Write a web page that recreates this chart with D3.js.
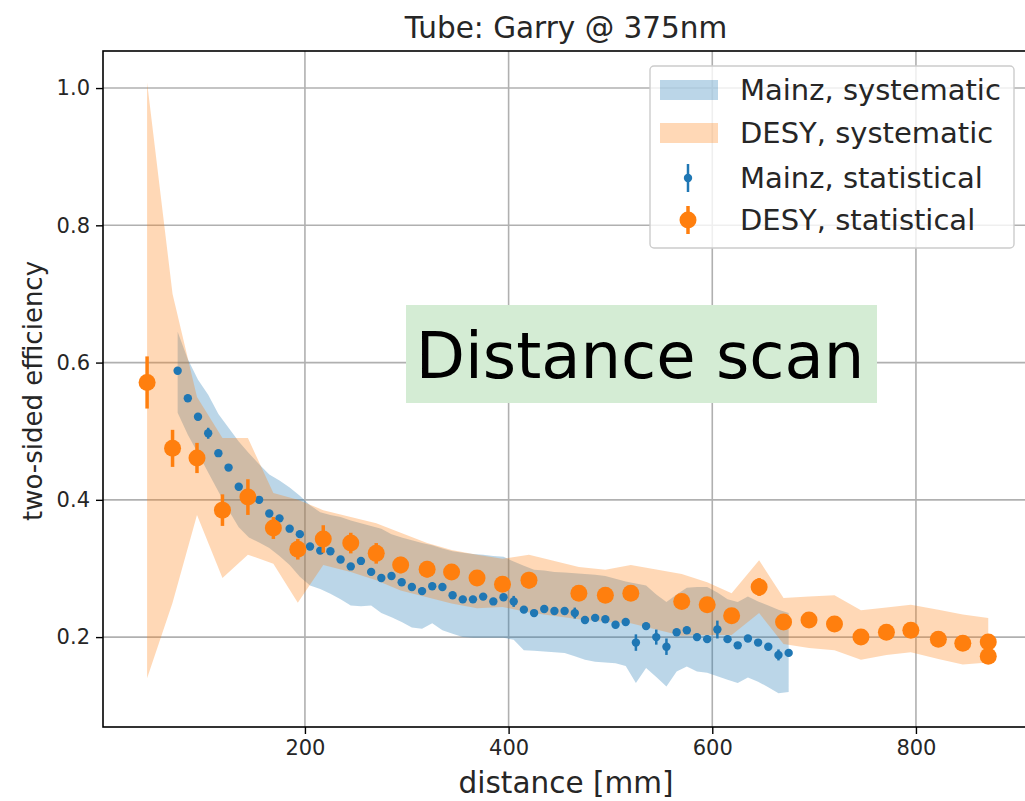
<!DOCTYPE html>
<html>
<head>
<meta charset="utf-8">
<script src="https://cdn.jsdelivr.net/npm/d3@7"></script>
<style>
  body { margin: 0; background: #fff; }
  svg { display: block; font-family: "DejaVu Sans", sans-serif; }
</style>
</head>
<body>
<svg id="chart" width="1025" height="801"></svg>
<script>
// ---- data ----
var mainzX = d3.range(75, 676, 10);
var mainzY = [0.588, 0.548, 0.521, 0.497, 0.468, 0.447, 0.419, 0.404, 0.400, 0.380,
              0.373, 0.358, 0.350, 0.332, 0.326, 0.325, 0.313, 0.303, 0.311, 0.295,
              0.286, 0.289, 0.280, 0.273, 0.267, 0.274, 0.273, 0.261, 0.255, 0.255,
              0.259, 0.252, 0.258, 0.252, 0.240, 0.235, 0.241, 0.238, 0.238, 0.235,
              0.225, 0.228, 0.226, 0.218, 0.222, 0.192, 0.216, 0.200, 0.186, 0.207,
              0.210, 0.200, 0.197, 0.211, 0.197, 0.188, 0.198, 0.192, 0.186, 0.174, 0.177];
var mainzErr = [0.005, 0.005, 0.005, 0.008, 0.005, 0.005, 0.005, 0.005, 0.005, 0.005,
                0.005, 0.005, 0.005, 0.005, 0.005, 0.005, 0.005, 0.005, 0.005, 0.005,
                0.005, 0.005, 0.005, 0.005, 0.005, 0.005, 0.005, 0.005, 0.005, 0.005,
                0.005, 0.005, 0.005, 0.008, 0.005, 0.005, 0.005, 0.005, 0.005, 0.008,
                0.005, 0.005, 0.005, 0.005, 0.005, 0.012, 0.005, 0.011, 0.012, 0.005,
                0.005, 0.005, 0.005, 0.013, 0.005, 0.005, 0.005, 0.005, 0.005, 0.008, 0.005];
var mainzSysHi = [0.645, 0.605, 0.575, 0.553, 0.525, 0.505, 0.485, 0.468, 0.452, 0.437,
                  0.428, 0.418, 0.406, 0.392, 0.382, 0.378, 0.375, 0.370, 0.366, 0.362,
                  0.358, 0.350, 0.345, 0.341, 0.337, 0.334, 0.329, 0.325, 0.323, 0.321,
                  0.320, 0.318, 0.317, 0.310, 0.304, 0.298, 0.297, 0.295, 0.294, 0.293,
                  0.292, 0.291, 0.289, 0.285, 0.281, 0.278, 0.275, 0.262, 0.251, 0.262,
                  0.272, 0.273, 0.273, 0.265, 0.255, 0.251, 0.259, 0.252, 0.246, 0.240, 0.235];
var mainzSysLo = [0.527, 0.495, 0.468, 0.440, 0.412, 0.385, 0.360, 0.345, 0.338, 0.330,
                  0.318, 0.305, 0.288, 0.275, 0.270, 0.263, 0.255, 0.246, 0.245, 0.246,
                  0.235, 0.229, 0.222, 0.214, 0.212, 0.220, 0.210, 0.205, 0.200, 0.199,
                  0.199, 0.199, 0.199, 0.196, 0.181, 0.180, 0.179, 0.178, 0.177, 0.172,
                  0.167, 0.164, 0.163, 0.162, 0.158, 0.133, 0.155, 0.142, 0.128, 0.150,
                  0.157, 0.150, 0.148, 0.143, 0.138, 0.133, 0.141, 0.135, 0.127, 0.118, 0.120];

var desyX = [45, 70, 94, 119, 144, 169, 193, 218, 245, 270, 294, 320, 344, 369, 394, 420,
             469, 495, 520, 570, 595, 619, 646, 670, 695, 720, 746, 771, 795, 822, 846, 871, 871];
var desyY = [0.571, 0.475, 0.461, 0.385, 0.404, 0.359, 0.328, 0.343, 0.337, 0.322, 0.305,
             0.299, 0.295, 0.286, 0.277, 0.283, 0.264, 0.261, 0.264, 0.252, 0.247, 0.231,
             0.273, 0.222, 0.225, 0.219, 0.200, 0.207, 0.210, 0.197, 0.191, 0.193, 0.172];
var desyErr = [0.038, 0.027, 0.022, 0.023, 0.026, 0.016, 0.015, 0.020, 0.015, 0.015, 0.012,
               0.012, 0.011, 0.011, 0.011, 0.012, 0.010, 0.010, 0.011, 0.010, 0.010, 0.010,
               0.013, 0.009, 0.008, 0.009, 0.008, 0.007, 0.011, 0.008, 0.007, 0.008, 0.008];
// systematic band, one vertex per distinct DESY distance
var desyBandX = [45, 70, 94, 119, 144, 169, 193, 218, 245, 270, 294, 320, 344, 369, 394, 420,
                 469, 495, 520, 570, 595, 619, 646, 670, 695, 720, 746, 771, 795, 822, 846, 871];
var desySysHi = [1.008, 0.700, 0.550, 0.490, 0.490, 0.410, 0.400, 0.385, 0.375, 0.366, 0.352,
                 0.337, 0.327, 0.320, 0.314, 0.320, 0.302, 0.298, 0.305, 0.292, 0.280, 0.264,
                 0.312, 0.257, 0.259, 0.261, 0.239, 0.243, 0.247, 0.240, 0.233, 0.228];
var desySysLo = [0.140, 0.250, 0.378, 0.286, 0.320, 0.307, 0.250, 0.305, 0.295, 0.283, 0.268,
                 0.258, 0.249, 0.242, 0.244, 0.236, 0.226, 0.222, 0.220, 0.202, 0.203, 0.203,
                 0.235, 0.190, 0.184, 0.181, 0.167, 0.174, 0.178, 0.168, 0.160, 0.163];

var xTicks = [200, 400, 600, 800];
var yTicks = [0.2, 0.4, 0.6, 0.8, 1.0];
var legendLabels = ["Mainz, systematic", "DESY, systematic", "Mainz, statistical", "DESY, statistical"];

var blue = "#1f77b4", orange = "#ff7f0e";

var svg = d3.select("#chart");
var pLeft = 103, pTop = 51, pBottom = 727, pRight = 1030;

var x = d3.scaleLinear().domain([1.7, 912]).range([pLeft, pRight]);
var y = d3.scaleLinear().domain([0.069, 1.054]).range([pBottom, pTop]);

// grid
var grid = svg.append("g");
grid.selectAll("line.gx").data(xTicks).enter().append("line").attr("class", "gx")
    .attr("x1", d => x(d)).attr("x2", d => x(d)).attr("y1", pTop).attr("y2", pBottom)
    .attr("stroke", "#b0b0b0").attr("stroke-width", 1.6);
grid.selectAll("line.gy").data(yTicks).enter().append("line").attr("class", "gy")
    .attr("y1", d => y(d)).attr("y2", d => y(d)).attr("x1", pLeft).attr("x2", pRight)
    .attr("stroke", "#b0b0b0").attr("stroke-width", 1.6);

// systematic bands
var mainzBand = mainzX.map((d, i) => ({x: d, lo: mainzSysLo[i], hi: mainzSysHi[i]}));
var desyBand = desyBandX.map((d, i) => ({x: d, lo: desySysLo[i], hi: desySysHi[i]}));
var area = d3.area().x(d => x(d.x)).y0(d => y(d.lo)).y1(d => y(d.hi));
svg.append("path").datum(mainzBand).attr("d", area).attr("fill", blue).attr("fill-opacity", 0.3);
svg.append("path").datum(desyBand).attr("d", area).attr("fill", orange).attr("fill-opacity", 0.3);

// statistical points
var mainz = mainzX.map((d, i) => ({x: d, y: mainzY[i], e: mainzErr[i]}));
var desy = desyX.map((d, i) => ({x: d, y: desyY[i], e: desyErr[i]}));

function points(data, color, r, w) {
    var g = svg.append("g");
    g.selectAll("line").data(data).enter().append("line")
        .attr("x1", d => x(d.x)).attr("x2", d => x(d.x))
        .attr("y1", d => y(d.y - d.e)).attr("y2", d => y(d.y + d.e))
        .attr("stroke", color).attr("stroke-width", w);
    g.selectAll("circle").data(data).enter().append("circle")
        .attr("cx", d => x(d.x)).attr("cy", d => y(d.y)).attr("r", r)
        .attr("fill", color);
}
points(mainz, blue, 4.2, 2.5);
points(desy, orange, 8.5, 3.5);

// annotation box
var ann = svg.append("g");
ann.append("rect").attr("x", 406).attr("y", 305).attr("width", 471).attr("height", 98)
    .attr("fill", "#d4ecd4");
ann.append("text").attr("x", 640).attr("y", 378).attr("text-anchor", "middle")
    .attr("font-size", 64).attr("fill", "#000").text("Distance scan");

// spines
svg.append("rect").attr("x", pLeft).attr("y", pTop).attr("width", pRight - pLeft).attr("height", pBottom - pTop)
    .attr("fill", "none").attr("stroke", "#000").attr("stroke-width", 1.6);

// axes
var xAxis = svg.append("g").attr("transform", "translate(0," + pBottom + ")")
    .call(d3.axisBottom(x).tickValues(xTicks).tickSize(7).tickPadding(6).tickFormat(d3.format("d")));
var yAxis = svg.append("g").attr("transform", "translate(" + pLeft + ",0)")
    .call(d3.axisLeft(y).tickValues(yTicks).tickSize(7).tickPadding(6).tickFormat(d3.format(".1f")));
[xAxis, yAxis].forEach(function(a) {
    a.select(".domain").remove();
    a.selectAll("text").attr("font-size", 21).attr("font-family", "DejaVu Sans").attr("fill", "#262626");
    a.selectAll("line").attr("stroke", "#000").attr("stroke-width", 1.4);
});

// labels
svg.append("text").attr("x", 566).attr("y", 38).attr("text-anchor", "middle")
    .attr("font-size", 29.5).attr("fill", "#262626").text("Tube: Garry @ 375nm");
svg.append("text").attr("x", 566).attr("y", 793).attr("text-anchor", "middle")
    .attr("font-size", 29.5).attr("fill", "#262626").text("distance [mm]");
svg.append("text").attr("transform", "translate(42,391) rotate(-90)").attr("text-anchor", "middle")
    .attr("font-size", 26).attr("fill", "#262626").text("two-sided efficiency");

// legend
var lg = svg.append("g").attr("transform", "translate(650,66)");
lg.append("rect").attr("width", 364).attr("height", 182).attr("rx", 4)
    .attr("fill", "#fff").attr("fill-opacity", 0.8).attr("stroke", "#cccccc").attr("stroke-width", 1.4);
var rowY = [24, 67, 112, 154];
lg.append("rect").attr("x", 10).attr("y", rowY[0] - 10).attr("width", 58).attr("height", 20)
    .attr("fill", blue).attr("fill-opacity", 0.3);
lg.append("rect").attr("x", 10).attr("y", rowY[1] - 10).attr("width", 58).attr("height", 20)
    .attr("fill", orange).attr("fill-opacity", 0.3);
lg.append("line").attr("x1", 38).attr("x2", 38).attr("y1", rowY[2] - 14).attr("y2", rowY[2] + 14)
    .attr("stroke", blue).attr("stroke-width", 2.5);
lg.append("circle").attr("cx", 38).attr("cy", rowY[2]).attr("r", 4.2).attr("fill", blue);
lg.append("line").attr("x1", 38).attr("x2", 38).attr("y1", rowY[3] - 14).attr("y2", rowY[3] + 14)
    .attr("stroke", orange).attr("stroke-width", 3.5);
lg.append("circle").attr("cx", 38).attr("cy", rowY[3]).attr("r", 8.5).attr("fill", orange);
lg.selectAll("text.lab").data(legendLabels).enter().append("text").attr("class", "lab")
    .attr("x", 90).attr("y", (d, i) => rowY[i] + 10)
    .attr("font-size", 29).attr("fill", "#262626").text(d => d);
</script>
</body>
</html>
